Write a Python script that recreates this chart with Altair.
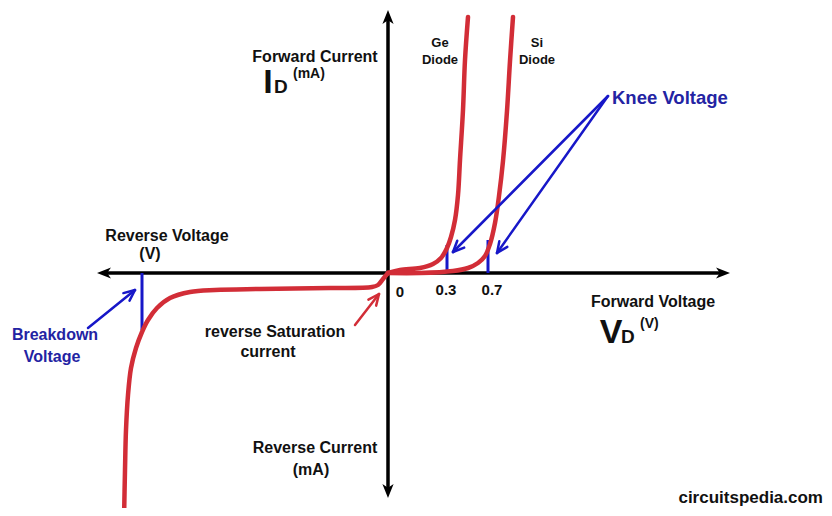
import altair as alt
import pandas as pd
import numpy as np

# ---- diagram coordinates (origin at 0 V / 0 mA, arbitrary schematic units) ----
ge_u = [0, 12, 32, 45, 53, 59, 63, 67, 70, 72, 75, 77, 80]
ge_v = [0, 3, 5, 9, 15, 25, 36, 53, 78, 113, 163, 213, 256]

si_u = [0, 32, 65, 80, 90, 97, 102, 107, 111, 115, 119, 122, 125]
si_v = [0, 0, 2, 5, 10, 17, 29, 50, 77, 112, 162, 212, 256]

rev_u = [0, -5, -10, -16, -58, -128, -173, -198, -218, -231, -240, -246, -252, -257, -260, -262, -263, -264]
rev_v = [0, -6, -12, -14, -15, -16, -17, -19, -25, -35, -47, -59, -75, -95, -122, -157, -197, -247]

# axes (tips of arrows)
axis_names = ["right", "left", "up", "down"]
axis_tip_u = [342, -291, 0, 0]
axis_tip_v = [0, 0, 263, -225]

# knee / breakdown marker lines
marker_u = [59, 100, -246]
marker_v1 = [0, 0, 0]
marker_v2 = [28, 33, -57]

# annotation arrows: start -> tip
blue_arrow_u = [220, 220, -300]
blue_arrow_v = [177, 177, -55]
blue_arrow_tu = [65, 109, -253]
blue_arrow_tv = [21, 20, -17]

red_arrow_u = [-33]
red_arrow_v = [-52]
red_arrow_tu = [-9]
red_arrow_tv = [-21]

# text labels
lab_center = ["Forward Current", "Ge", "Diode", "Si", "Diode", "Reverse Voltage", "(V)",
              "0", "0.3", "0.7", "Forward Voltage", "reverse Saturation", "current",
              "Reverse Current", "(mA)"]
lab_center_u = [-73, 52, 52, 149, 149, -221, -238, 12, 58, 104, 265, -113, -120, -73, -77]
lab_center_v = [216, 230, 213, 230, 213, 37, 19, -19, -17, -17, -29, -59, -79, -175, -197]
lab_center_size = [16, 13, 13, 13, 13, 16, 16, 15, 15, 15, 16, 16, 16, 16, 16]

blue_labels = ["Breakdown", "Voltage"]
blue_labels_u = [-333, -336]
blue_labels_v = [-62, -84]

knee_label = ["Knee Voltage"]
knee_u = [224]
knee_v = [175]

RED = "#d22d37"
BLUE = "#1717c8"
BLUE_TXT = "#2323a3"

xs = alt.Scale(domain=[-380, 436], nice=False, zero=False)
ys = alt.Scale(domain=[-235, 265], nice=False, zero=False)


def X(f="u"):
    return alt.X(f"{f}:Q", scale=xs, axis=None)


def Y(f="v"):
    return alt.Y(f"{f}:Q", scale=ys, axis=None)


# ---- curves ----
frames = []
for name, uu, vv in [("Ge", ge_u, ge_v), ("Si", si_u, si_v), ("rev", rev_u, rev_v)]:
    frames.append(pd.DataFrame({"series": name, "order": range(len(uu)), "u": uu, "v": vv}))
curves = pd.concat(frames, ignore_index=True)

curve_layer = alt.Chart(curves).mark_line(
    color=RED, strokeWidth=4.5, interpolate="catmull-rom", clip=True, strokeCap="round"
).encode(x=X(), y=Y(), detail="series:N", order="order:Q")

# ---- axes ----
tip_u = np.array(axis_tip_u, float)
tip_v = np.array(axis_tip_v, float)
dirs = {"right": (1, 0, 0), "left": (-1, 0, 180), "up": (0, 1, 270), "down": (0, -1, 90)}
head_len = 14
ax_rows = []
for n, tu, tv in zip(axis_names, tip_u, tip_v):
    dx, dy, ang = dirs[n]
    ax_rows.append({"u": tu - dx * head_len / 2, "v": tv - dy * head_len / 2, "angle": ang})
heads = pd.DataFrame(ax_rows)

axis_lines = pd.DataFrame({
    "u": [axis_tip_u[1] + 6, 0],
    "v": [0, axis_tip_v[3] + 6],
    "u2": [axis_tip_u[0] - 6, 0],
    "v2": [0, axis_tip_v[2] - 6],
})
axis_layer = alt.Chart(axis_lines).mark_rule(color="black", strokeWidth=3.5).encode(
    x=X(), y=Y(), x2="u2:Q", y2="v2:Q")

head_layer = alt.Chart(heads).mark_point(
    shape="M1,0 L-1,-0.8 L-0.45,0 L-1,0.8 Z", filled=True, color="black", opacity=1, size=head_len ** 2
).encode(x=X(), y=Y(), angle=alt.Angle("angle:Q", scale=None))

# ---- marker lines ----
markers = pd.DataFrame({"u": marker_u, "v": marker_v1, "v2": marker_v2})
marker_layer = alt.Chart(markers).mark_rule(color=BLUE, strokeWidth=3).encode(
    x=X(), y=Y(), y2="v2:Q")


# ---- annotation arrows ----
def arrow_segments(su, sv, tu, tv, hl=12, spread=np.deg2rad(24)):
    rows = []
    for a, b, c, d in zip(su, sv, tu, tv):
        rows.append({"u": a, "v": b, "u2": c, "v2": d})
        ang = np.arctan2(b - d, a - c)
        for s in (-spread, spread):
            rows.append({"u": c, "v": d,
                         "u2": c + hl * np.cos(ang + s), "v2": d + hl * np.sin(ang + s)})
    return pd.DataFrame(rows)


blue_arrows = arrow_segments(blue_arrow_u, blue_arrow_v, blue_arrow_tu, blue_arrow_tv)
red_arrows = arrow_segments(red_arrow_u, red_arrow_v, red_arrow_tu, red_arrow_tv)

blue_arrow_layer = alt.Chart(blue_arrows).mark_rule(color=BLUE, strokeWidth=2.5, strokeCap="round").encode(
    x=X(), y=Y(), x2="u2:Q", y2="v2:Q")
red_arrow_layer = alt.Chart(red_arrows).mark_rule(color=RED, strokeWidth=2.5, strokeCap="round").encode(
    x=X(), y=Y(), x2="u2:Q", y2="v2:Q")

# ---- texts ----
FONT = "Liberation Sans"
center_df = pd.DataFrame({"t": lab_center, "u": lab_center_u, "v": lab_center_v, "s": lab_center_size})
center_text = alt.Chart(center_df).mark_text(
    font=FONT, fontWeight="bold", color="#111111", align="center", baseline="middle"
).encode(x=X(), y=Y(), text="t:N", size=alt.Size("s:Q", scale=None))

blue_df = pd.DataFrame({"t": blue_labels, "u": blue_labels_u, "v": blue_labels_v})
blue_text = alt.Chart(blue_df).mark_text(
    font=FONT, fontWeight="bold", color=BLUE_TXT, align="center", baseline="middle", fontSize=16
).encode(x=X(), y=Y(), text="t:N")

knee_df = pd.DataFrame({"t": knee_label, "u": knee_u, "v": knee_v})
knee_text = alt.Chart(knee_df).mark_text(
    font=FONT, fontWeight="bold", color=BLUE_TXT, align="left", baseline="middle", fontSize=18.5
).encode(x=X(), y=Y(), text="t:N")

# big symbols I_D and V_D
big_df = pd.DataFrame({"t": ["I", "V"], "u": [-120, 223], "v": [180, -70]})
big_text = alt.Chart(big_df).mark_text(
    font=FONT, fontWeight="bold", color="#111111", align="center", baseline="alphabetic", fontSize=34
).encode(x=X(), y=Y(), text="t:N")

sub_df = pd.DataFrame({"t": ["D", "D"], "u": [-114, 233], "v": [180, -70]})
sub_text = alt.Chart(sub_df).mark_text(
    font=FONT, fontWeight="bold", color="#111111", align="left", baseline="alphabetic", fontSize=19
).encode(x=X(), y=Y(), text="t:N")

unit_df = pd.DataFrame({"t": ["(mA)", "(V)"], "u": [-95, 252], "v": [199, -51]})
unit_text = alt.Chart(unit_df).mark_text(
    font=FONT, fontWeight="bold", color="#111111", align="left", baseline="middle", fontSize=14
).encode(x=X(), y=Y(), text="t:N")

site_df = pd.DataFrame({"t": ["circuitspedia.com"], "u": [435], "v": [-225]})
site_text = alt.Chart(site_df).mark_text(
    font=FONT, fontWeight="bold", color="#111111", align="right", baseline="middle", fontSize=17
).encode(x=X(), y=Y(), text="t:N")

chart = alt.layer(
    axis_layer, head_layer, marker_layer, curve_layer,
    blue_arrow_layer, red_arrow_layer,
    center_text, blue_text, knee_text, big_text, sub_text, unit_text, site_text
).properties(
    width=816, height=500,
    autosize=alt.AutoSizeParams(type="fit", contains="padding"),
    padding=0, background="white"
).configure_view(stroke=None)

chart.save("out.html", embed_options={"renderer": "svg", "actions": False})
